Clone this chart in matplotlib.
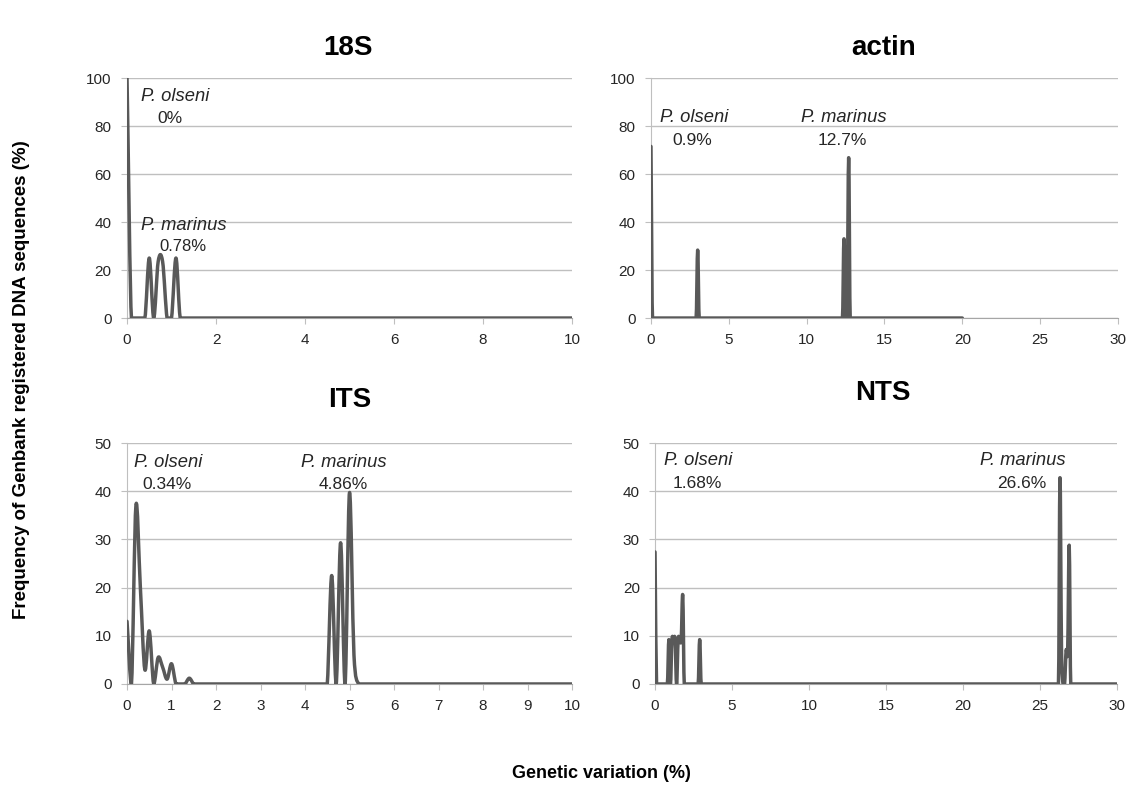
import matplotlib
matplotlib.use('Agg')
import matplotlib.pyplot as plt
from matplotlib.path import Path
from matplotlib.patches import PathPatch

# frequency (%) against genetic variation (%) for each gene
x_18s = [0, 0.1, 0.4, 0.5, 0.6, 0.7, 0.8, 0.9, 1.0, 1.1, 1.2, 10]
y_18s = [100, 0, 0, 25, 0, 23.5, 23.5, 0, 0, 25, 0, 0]

x_actin = [0, 0.1, 2.9, 3.0, 3.1, 12.3, 12.4, 12.5, 12.6, 12.7, 12.8, 20]
y_actin = [71.5, 0, 0, 28.3, 0, 0, 33, 0, 0, 66.8, 0, 0]

x_its = [0, 0.1, 0.2, 0.3, 0.4, 0.5, 0.6, 0.7, 0.8, 0.9, 1.0, 1.1, 1.2, 1.3, 1.4,
         1.5, 1.6, 4.4, 4.5, 4.6, 4.7, 4.8, 4.9, 5.0, 5.1, 5.2, 5.3, 10]
y_its = [13, 0, 37, 20, 3, 11, 0, 5.5, 3.5, 1, 4.2, 0, 0, 0, 1.2,
         0, 0, 0, 0, 22.5, 0, 29.3, 0, 39.7, 6, 0, 0, 0]

x_nts = [0, 0.1, 0.8, 0.9, 1.0, 1.1, 1.2, 1.3, 1.4, 1.5, 1.6, 1.7, 1.8, 1.9,
         2.8, 2.9, 3.0, 26.2, 26.3, 26.4, 26.5, 26.6, 26.7, 26.8, 26.9, 27.0, 30]
y_nts = [27.4, 0, 0, 9.2, 0, 9.2, 9.2, 9.2, 0, 9.2, 9.2, 9.2, 18.4, 0,
         0, 9.2, 0, 0, 42.8, 7, 0, 0, 7, 7, 28.8, 0, 0]

titles = ['18S', 'actin', 'ITS', 'NTS']
xlims = [10, 30, 10, 30]
xsteps = [2, 5, 1, 5]
ylims = [100, 100, 50, 50]
ysteps = [20, 20, 10, 10]
# (species label, mean variation) and their positions in data units
notes = [
    [('P. olseni', 1.08, 92.5), ('0%', 0.97, 83), ('P. marinus', 1.28, 38.5), ('0.78%', 1.26, 30)],
    [('P. olseni', 2.76, 83.5), ('0.9%', 2.65, 74), ('P. marinus', 12.4, 83.5), ('12.7%', 12.3, 74)],
    [('P. olseni', 0.92, 46), ('0.34%', 0.9, 41.3), ('P. marinus', 4.88, 46), ('4.86%', 4.85, 41.3)],
    [('P. olseni', 2.8, 46.3), ('1.68%', 2.73, 41.5), ('P. marinus', 23.9, 46.3), ('26.6%', 23.8, 41.5)],
]

LINE = '#595959'
GRID = '#BFBFBF'
plt.rcParams['font.family'] = ['Liberation Sans', 'DejaVu Sans']


def smooth_path(xs, ys):
    # Excel style smoothed line: cubic Bezier through every point
    n = len(xs)
    slopes = []
    for i in range(n):
        a = max(i - 1, 0)
        b = min(i + 1, n - 1)
        slopes.append((ys[b] - ys[a]) / (xs[b] - xs[a]))
    verts = [(xs[0], ys[0])]
    codes = [Path.MOVETO]
    for i in range(n - 1):
        h = xs[i + 1] - xs[i]
        c1 = (xs[i] + h / 3, max(ys[i] + slopes[i] * h / 3, 0))
        c2 = (xs[i + 1] - h / 3, max(ys[i + 1] - slopes[i + 1] * h / 3, 0))
        verts += [c1, c2, (xs[i + 1], ys[i + 1])]
        codes += [Path.CURVE4] * 3
    return Path(verts, codes)


fig = plt.figure(figsize=(11.28, 7.88), dpi=100)
boxes = [
    [0.1126, 0.5964, 0.3945, 0.3046],
    [0.5771, 0.5964, 0.4140, 0.3046],
    [0.1126, 0.1320, 0.3945, 0.3058],
    [0.5807, 0.1320, 0.4095, 0.3058],
]
series = [(x_18s, y_18s), (x_actin, y_actin), (x_its, y_its), (x_nts, y_nts)]
title_pos = [(0.3085, 0.939), (0.783, 0.939), (0.31, 0.4924), (0.783, 0.5013)]

for k in range(4):
    ax = fig.add_axes(boxes[k])
    xs, ys = series[k]
    ax.add_patch(PathPatch(smooth_path(xs, ys), fill=False, edgecolor=LINE,
                           lw=2.5, joinstyle='round', capstyle='round', zorder=3))
    ax.set_xlim(0, xlims[k])
    ax.set_ylim(0, ylims[k])
    ax.set_xticks(range(0, xlims[k] + 1, xsteps[k]))
    ax.set_yticks(range(0, ylims[k] + 1, ysteps[k]))
    ax.yaxis.grid(True, color=GRID, lw=1)
    ax.set_axisbelow(True)
    for s in ['top', 'right']:
        ax.spines[s].set_visible(False)
    ax.spines['left'].set_color(GRID)
    ax.spines['bottom'].set_color('#A6A6A6')
    ax.tick_params(axis='both', direction='out', length=4, color=GRID,
                   labelsize=11, labelcolor='#262626', pad=7)
    for txt, tx, ty in notes[k]:
        if txt.startswith('P.'):
            ax.text(tx, ty, txt, style='italic', fontsize=13.2, ha='center', va='center', color='#262626')
        else:
            ax.text(tx, ty, txt, fontsize=12 if txt == '0.78%' else 12.5, ha='center', va='center', color='#262626')
    fig.text(title_pos[k][0], title_pos[k][1], titles[k], fontsize=20, fontweight='bold',
             ha='center', va='center')

fig.text(0.0195, 0.5178, 'Frequency of Genbank registered DNA sequences (%)', rotation=90,
         fontsize=13.5, fontweight='bold', ha='center', va='center')
fig.text(0.533, 0.0178, 'Genetic variation (%)', fontsize=13, fontweight='bold',
         ha='center', va='center')

fig.savefig('out.png', dpi=100)
plt.close('all')
